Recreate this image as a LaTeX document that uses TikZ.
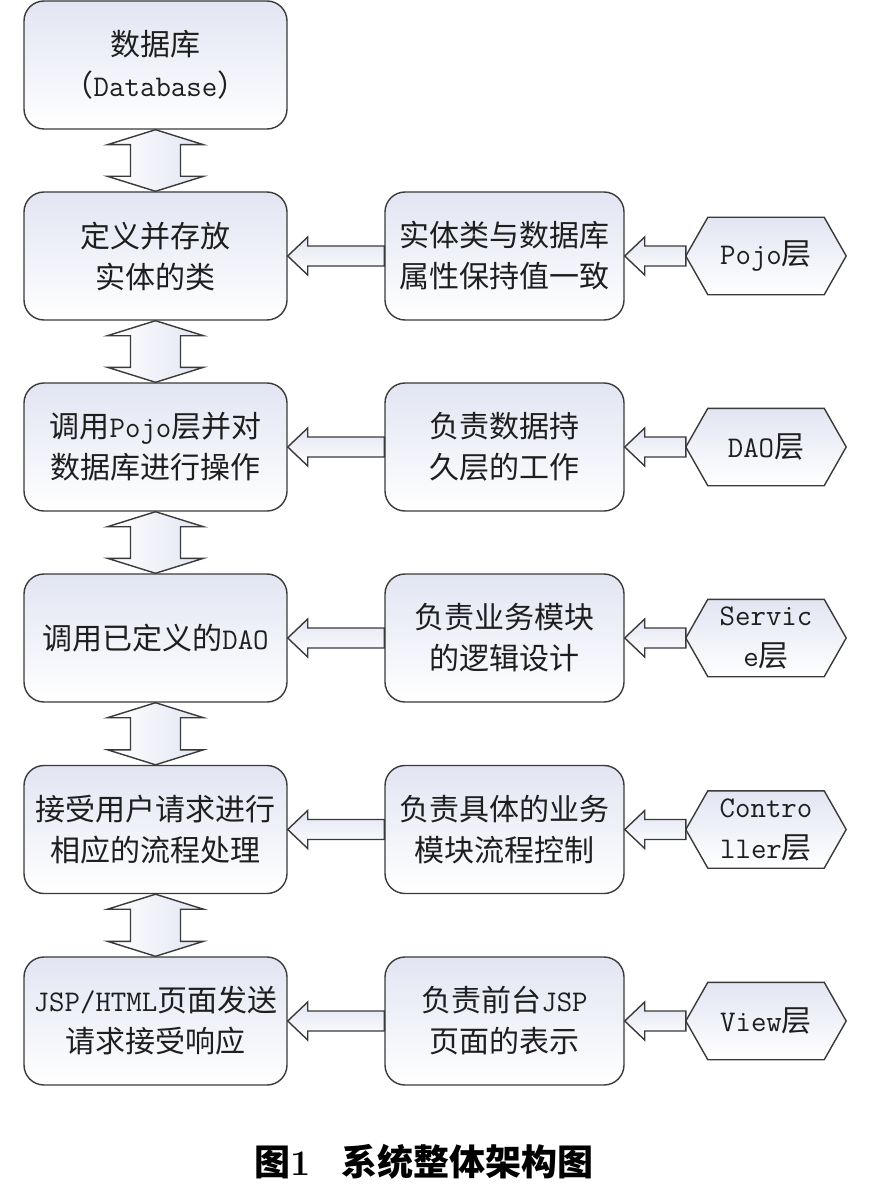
\documentclass[tikz,border=0pt]{standalone}
\usepackage{fontspec}
\newfontfamily\cjk{Noto Sans CJK SC}
\usetikzlibrary{calc,backgrounds}
\newcommand\mylat[1]{{\ttfamily #1}}
\definecolor{edge}{HTML}{3A3A3A}
\definecolor{txt}{HTML}{1E1E1E}
\definecolor{tint}{HTML}{E2E5F2}
\tikzset{
  box/.style={draw=edge, line width=1.4pt, rounded corners=20pt,
    top color=tint, bottom color=white, text=txt, align=center,
    minimum height=128pt, inner sep=0pt,
    font=\cjk\fontsize{30}{41}\selectfont},
  leftbox/.style={box, minimum width=263pt},
  midbox/.style={box, minimum width=239pt},
  hexnode/.style={minimum width=160pt, minimum height=77pt, inner sep=0pt,
    text=txt, align=center, font=\cjk\fontsize{30}{41}\selectfont},
  hexshape/.style={draw=edge, line width=1.4pt, top color=tint, bottom color=white},
  harr/.style={draw=edge, line width=1.4pt, top color=tint, bottom color=white},
  varr/.style={draw=edge, line width=1.4pt, left color=white, right color=tint},
  caption/.style={text=black, font=\fontsize{36}{40}\selectfont\bfseries}
}
% vertical double arrow between #1 (upper) and #2 (lower)
\newcommand\varrow[2]{%
  \path[varr] (#1.south) -- ++(48,15) -- ++(-23,0) -- ($(#2.north)+(25,-15)$)
    -- ++(23,0) -- (#2.north) -- ++(-48,-15) -- ++(23,0)
    -- ($(#1.south)+(-25,15)$) -- ++(-23,0) -- cycle;}
% horizontal arrow from #1 (right) to #2 (left)
\newcommand\harrow[2]{%
  \path[harr] (#2.east) -- ++(20,-19) -- ++(0,9) -- ($(#1.west)+(0,-10)$)
    -- ($(#1.west)+(0,10)$) -- ($(#2.east)+(20,10)$) -- ++(0,9) -- cycle;}
% hexagon around node #1
\newcommand\hexagon[1]{%
  \path[hexshape] (#1.west) -- ($(#1.north west)+(22,0)$) -- ($(#1.north east)+(-22,0)$)
    -- (#1.east) -- ($(#1.south east)+(-22,0)$) -- ($(#1.south west)+(22,0)$) -- cycle;}
\begin{document}
\begin{tikzpicture}[x=1pt,y=-1pt]
\useasboundingbox (0,0) rectangle (868,1190);

% left column
\node[leftbox] (L1) at (155.5,65) {数据库\\（\mylat{Database}）};
\node[leftbox] (L2) at (155.5,256) {定义并存放\\实体的类};
\node[leftbox] (L3) at (155.5,447) {调用\mylat{Pojo}层并对\\数据库进行操作};
\node[leftbox] (L4) at (155.5,638) {调用已定义的\mylat{DAO}};
\node[leftbox] (L5) at (155.5,829.5) {接受用户请求进行\\相应的流程处理};
\node[leftbox] (L6) at (155.5,1021) {\mylat{JSP/HTML}页面发送\\请求接受响应};

% middle column
\node[midbox] (M2) at (504.5,256) {实体类与数据库\\属性保持值一致};
\node[midbox] (M3) at (504.5,447) {负责数据持\\久层的工作};
\node[midbox] (M4) at (504.5,638) {负责业务模块\\的逻辑设计};
\node[midbox] (M5) at (504.5,829.5) {负责具体的业务\\模块流程控制};
\node[midbox] (M6) at (504.5,1021) {负责前台\mylat{JSP}\\页面的表示};

% right column (hexagons)
\node[hexnode] (H2) at (766,256) {\mylat{Pojo}层};
\node[hexnode] (H3) at (766,447) {\mylat{DAO}层};
\node[hexnode] (H4) at (766,638) {\mylat{Servic}\\\mylat{e}层};
\node[hexnode] (H5) at (766,829.5) {\mylat{Contro}\\\mylat{ller}层};
\node[hexnode] (H6) at (766,1021) {\mylat{View}层};
\begin{scope}[on background layer]
  \foreach \h in {H2,H3,H4,H5,H6} {\hexagon{\h}}
\end{scope}

% vertical double arrows
\varrow{L1}{L2}
\varrow{L2}{L3}
\varrow{L3}{L4}
\varrow{L4}{L5}
\varrow{L5}{L6}

% horizontal arrows
\foreach \r in {2,...,6} {
  \harrow{M\r}{L\r}
  \harrow{H\r}{M\r}
}

% caption
\node[caption] (cap) at (424,1162) {{\cjk 图}1\hspace{30pt}{\cjk 系统整体架构图}};
\end{tikzpicture}
\end{document}
